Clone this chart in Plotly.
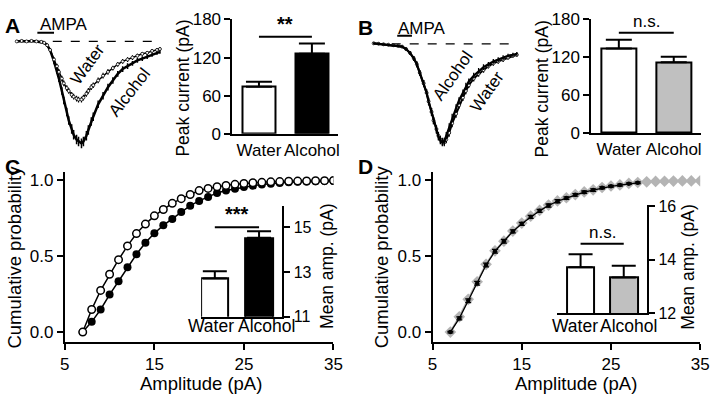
import plotly.graph_objects as go

W, H = 720, 404
def px(x): return x / W
def py(y): return 1 - y / H

FONT = "Liberation Sans, Arial, sans-serif"

# ---------------- Panel A: AMPA currents (time in ms-like units, current in a.u.) -------------
tA = [12,17,22,27,32,37,40,43,46,50,53,55,58,60,63,65,68,70,73,75,78,80,83,85,88,90,95,100,105,110,115,120,125,130,135,140,145,150,155,158]
A_alcohol = [0,0.5,0,0.5,0,-0.5,-1.5,-4,-9,-21,-31,-39,-52,-62,-74,-83,-92,-98,-103,-105,-107,-105,-99,-93,-84,-79,-66,-57,-48,-41,-34,-29,-26,-23,-20,-18,-16,-14,-12,-11]
A_alcohol_err = [1,1,1,1,1,1,1,1.5,2,3,3,3.5,4,4,4.5,4.5,5,5,5,5,5,5,5,5,4.5,4.5,4,4,3.5,3.5,3,3,3,2.5,2.5,2.5,2.5,2,2,2]
A_water = [0,0.5,0,0.5,0,-0.5,-1.5,-4,-9,-19,-26,-32,-39,-44,-49,-52,-56,-58,-60,-61,-61,-59,-55,-52,-48,-46,-41,-36,-32,-28,-24,-21,-19,-17,-15,-13,-12,-10,-9,-8]
A_water_err = [1,1,1,1,1,1,1,1.5,2,2.5,2.5,3,3,3,3,3,3,3,3,3,3,3,3,3,3,3,3,3,3,2.5,2.5,2.5,2.5,2.5,2,2,2,2,2,2]
A_ampa_bar = [33, 50]

# ---------------- Panel B: AMPA currents ----------------
tB = [16,21,26,31,36,41,45,49,53,57,60,63,67,70,72,75,77,80,82,84,86,88,90,93,96,100,103,107,110,113,118,123,128,133,138,143,148,153,158,162]
B_alcohol = [0.5,0,-0.5,-1,-1.5,-2,-3,-5.5,-9.5,-15.5,-21.5,-30.5,-41.5,-51.5,-60.5,-71.5,-80.5,-90.5,-97.5,-101.5,-103.5,-102.5,-96.5,-87.5,-77.5,-67.5,-59.5,-51.5,-44.5,-39.5,-33.5,-28.5,-24.5,-21.5,-18.5,-16.5,-14.5,-12.5,-11.5,-10.5]
B_water = [0.5,0,-0.5,-1,-1.5,-2,-3,-5.5,-9.5,-15.5,-21.5,-30.5,-41.5,-51.5,-60.5,-71.5,-80.5,-89.5,-96.5,-100.5,-102.5,-103.5,-100.5,-93.5,-83.5,-73.5,-64.5,-56.5,-49.5,-43.5,-36.5,-31.5,-27.5,-23.5,-20.5,-18.5,-16.5,-14.5,-12.5,-11.5]
B_err = [1,1,1,1,1,1,1,1.5,2,2.5,3,3,3.5,3.5,4,4,4,4,4,4,4,4,4,4,4,4,3.5,3.5,3.5,3,3,3,3,2.5,2.5,2.5,2.5,2,2,2]
B_ampa_bar = [40, 55]

# ---------------- Bar charts A / B ----------------
groups = ["Water", "Alcohol"]
A_peak = [74, 126]
A_peak_err = [8, 16]
A_sig_y = 153
B_peak = [134, 112]
B_peak_err = [14, 9]
B_sig_y = 159
peak_ticks = [0, 60, 120, 180]

# ---------------- Panel C / D cumulative distributions ----------------
amp = list(range(7, 36))
C_water = [0,0.148,0.273,0.379,0.475,0.565,0.646,0.708,0.762,0.804,0.844,0.875,0.902,0.928,0.942,0.953,0.962,0.969,0.975,0.979,0.982,0.985,0.987,0.989,0.990,0.991,0.992,0.993,0.994]
C_alcohol = [0,0.067,0.148,0.246,0.333,0.425,0.51,0.585,0.648,0.70,0.742,0.7875,0.829,0.86,0.885,0.9125,0.929,0.94,0.952,0.960,0.967,0.973,0.978,0.982,0.985,0.987,0.989,0.990,0.991]
D_alcohol = [0,0.10,0.215,0.33,0.444,0.533,0.596,0.6625,0.715,0.76,0.798,0.833,0.86,0.881,0.902,0.919,0.933,0.948,0.958,0.965,0.975,0.981,0.985,0.988,0.989,0.990,0.991,0.991,0.992]
amp_Dw = list(range(7, 29))
D_water = [0,0.09,0.205,0.32,0.44,0.53,0.595,0.66,0.71,0.755,0.795,0.83,0.858,0.879,0.9,0.917,0.931,0.946,0.956,0.964,0.973,0.979]
D_water_err = [0.005,0.01,0.012,0.012,0.012,0.012,0.012,0.01,0.01,0.01,0.01,0.01,0.01,0.008,0.008,0.008,0.008,0.006,0.006,0.006,0.005,0.005]

C_mean = [12.71, 14.53]
C_mean_err = [0.33, 0.29]
C_sig_y = 15.0
D_mean = [13.72, 13.33]
D_mean_err = [0.48, 0.44]
D_sig_y = 14.6

fig = go.Figure()

# A traces
fig.add_trace(go.Scatter(x=[tA[0], tA[-1]], y=[0, 0], mode="lines", line=dict(color="black", width=1.3, dash="dash"),
                         xaxis="x", yaxis="y", showlegend=False))
fig.add_trace(go.Scatter(x=tA, y=A_alcohol, mode="lines", line=dict(color="black", width=2.5),
                         error_y=dict(type="data", array=A_alcohol_err, color="black", thickness=1.5, width=0),
                         xaxis="x", yaxis="y", showlegend=False))
fig.add_trace(go.Scatter(x=tA, y=A_water, mode="lines+markers", line=dict(color="black", width=1.5),
                         marker=dict(size=3, color="white", line=dict(color="black", width=0.8)),
                         error_y=dict(type="data", array=A_water_err, color="black", thickness=1.2, width=0),
                         xaxis="x", yaxis="y", showlegend=False))
fig.add_trace(go.Scatter(x=A_ampa_bar, y=[9, 9], mode="lines", line=dict(color="black", width=2),
                         xaxis="x", yaxis="y", showlegend=False))

# B traces
fig.add_trace(go.Scatter(x=[tB[0], tB[-1]], y=[0, 0], mode="lines", line=dict(color="black", width=1.3, dash="dash"),
                         xaxis="x3", yaxis="y3", showlegend=False))
fig.add_trace(go.Scatter(x=tB, y=B_water, mode="lines+markers", line=dict(color="black", width=2),
                         marker=dict(size=3, color="white", line=dict(color="black", width=0.8)),
                         error_y=dict(type="data", array=B_err, color="black", thickness=1.3, width=0),
                         xaxis="x3", yaxis="y3", showlegend=False))
fig.add_trace(go.Scatter(x=tB, y=B_alcohol, mode="lines", line=dict(color="black", width=2.2),
                         error_y=dict(type="data", array=B_err, color="black", thickness=1.3, width=0),
                         xaxis="x3", yaxis="y3", showlegend=False))
fig.add_trace(go.Scatter(x=B_ampa_bar, y=[8.5, 8.5], mode="lines", line=dict(color="black", width=2),
                         xaxis="x3", yaxis="y3", showlegend=False))

def bar_trace(vals, errs, colors, xa, ya):
    return go.Bar(x=groups, y=vals, width=0.63, marker=dict(color=colors, line=dict(color="black", width=2)),
                  error_y=dict(type="data", symmetric=False, array=errs, arrayminus=[0, 0], color="black",
                               thickness=2, width=13),
                  xaxis=xa, yaxis=ya, showlegend=False)

fig.add_trace(bar_trace(A_peak, A_peak_err, ["white", "black"], "x2", "y2"))
fig.add_trace(bar_trace(B_peak, B_peak_err, ["white", "#c0c0c0"], "x4", "y4"))

# C main
fig.add_trace(go.Scatter(x=amp, y=C_alcohol, mode="lines+markers", line=dict(color="black", width=1.5),
                         marker=dict(size=8, color="black"), xaxis="x5", yaxis="y5", showlegend=False))
fig.add_trace(go.Scatter(x=amp, y=C_water, mode="lines+markers", line=dict(color="black", width=1.5),
                         marker=dict(size=7.5, color="white", line=dict(color="black", width=1.5)),
                         xaxis="x5", yaxis="y5", showlegend=False))
# C inset
fig.add_trace(go.Bar(x=groups, y=C_mean, width=0.62,
                     marker=dict(color=["white", "black"], line=dict(color="black", width=2)),
                     error_y=dict(type="data", symmetric=False, array=C_mean_err, arrayminus=[0, 0], color="black",
                                  thickness=2, width=12),
                     xaxis="x6", yaxis="y6", showlegend=False))

# D main
fig.add_trace(go.Scatter(x=amp, y=D_alcohol, mode="lines+markers", line=dict(color="#b4b4b4", width=2),
                         marker=dict(size=9, color="#b4b4b4", symbol="diamond"), xaxis="x7", yaxis="y7", showlegend=False))
fig.add_trace(go.Scatter(x=amp_Dw, y=D_water, mode="lines+markers", line=dict(color="black", width=1.3),
                         marker=dict(size=4.5, color="black"),
                         error_y=dict(type="data", array=D_water_err, color="black", thickness=1.3, width=3),
                         xaxis="x7", yaxis="y7", showlegend=False))
# D inset
fig.add_trace(go.Bar(x=groups, y=D_mean, width=0.64,
                     marker=dict(color=["white", "#c0c0c0"], line=dict(color="black", width=2)),
                     error_y=dict(type="data", symmetric=False, array=D_mean_err, arrayminus=[0, 0], color="black",
                                  thickness=2, width=12),
                     xaxis="x8", yaxis="y8", showlegend=False))

ax = dict(showgrid=False, zeroline=False, showline=True, linecolor="black", linewidth=2,
          ticks="outside", ticklen=6, tickwidth=2, tickcolor="black",
          tickfont=dict(family=FONT, size=17, color="black"))
hidden = dict(visible=False, showgrid=False, zeroline=False)

layout = dict(
    width=W, height=H, autosize=False, margin=dict(l=0, r=0, t=0, b=0),
    paper_bgcolor="white", plot_bgcolor="rgba(0,0,0,0)",
    font=dict(family=FONT, color="black"),
    bargap=0,
    xaxis=dict(hidden, domain=[px(0), px(170)], range=[0, 170]),
    yaxis=dict(hidden, domain=[py(150), py(20)], range=[-116, 14]),
    xaxis2=dict(ax, domain=[px(232), px(340)], range=[-0.5, 1.5], ticks="", anchor="y2"),
    yaxis2=dict(ax, domain=[py(131), py(11)], range=[0, 180], tickvals=peak_ticks, anchor="x2"),
    xaxis3=dict(hidden, domain=[px(360), px(530)], range=[0, 170]),
    yaxis3=dict(hidden, domain=[py(150), py(20)], range=[-113.5, 16.5]),
    xaxis4=dict(ax, domain=[px(598), px(710)], range=[-0.5, 1.5], ticks="", anchor="y4"),
    yaxis4=dict(ax, domain=[py(130), py(11)], range=[0, 180], tickvals=peak_ticks, anchor="x4"),
    xaxis5=dict(ax, domain=[px(61), px(335)], range=[5, 35], tickvals=[5, 15, 25, 35], anchor="y5"),
    yaxis5=dict(ax, domain=[py(349), py(171)], range=[-0.0625, 1.05], tickvals=[0, 0.5, 1],
                ticktext=["0.0", "0.5", "1.0"], anchor="x5"),
    xaxis6=dict(ax, domain=[px(200), px(283)], range=[-0.31, 1.53], ticks="", showticklabels=False, anchor="y6"),
    yaxis6=dict(ax, domain=[py(323), py(207)], range=[11, 15.94], tickvals=[11, 13, 15], side="right",
                anchor="x6", tickfont=dict(family=FONT, size=16, color="black")),
    xaxis7=dict(ax, domain=[px(436), px(709)], range=[5, 35], tickvals=[5, 15, 25, 35], anchor="y7"),
    yaxis7=dict(ax, domain=[py(349), py(171)], range=[-0.0625, 1.05], tickvals=[0, 0.5, 1],
                ticktext=["0.0", "0.5", "1.0"], anchor="x7"),
    xaxis8=dict(ax, domain=[px(563), px(655)], range=[-0.545, 1.545], ticks="", showticklabels=False, anchor="y8"),
    yaxis8=dict(ax, domain=[py(319), py(206)], range=[12, 16.04], tickvals=[12, 14, 16], side="right",
                anchor="x8", tickfont=dict(family=FONT, size=16, color="black")),
)
fig.update_layout(**layout)

for xa, ya, yv in [("x2", "y2", A_sig_y), ("x4", "y4", B_sig_y), ("x6", "y6", C_sig_y), ("x8", "y8", D_sig_y)]:
    fig.add_shape(type="line", xref=xa, yref=ya, x0=0, x1=1, y0=yv, y1=yv, line=dict(color="black", width=2))

ann = []
def txt(t, x, y, size=17, bold=False, angle=0, xanchor="center", xref="paper", yref="paper", yanchor="middle"):
    ann.append(dict(text=("<b>%s</b>" % t) if bold else t, x=x, y=y, xref=xref, yref=yref, showarrow=False,
                    xanchor=xanchor, yanchor=yanchor, textangle=angle,
                    font=dict(family=FONT, size=size, color="black")))

txt("**", 0.5, A_sig_y, 20, True, xref="x2", yref="y2", yanchor="bottom")
txt("n.s.", 0.5, B_sig_y, 17, xref="x4", yref="y4", yanchor="bottom")
txt("***", 0.5, C_sig_y, 20, True, xref="x6", yref="y6", yanchor="bottom")
txt("n.s.", 0.5, D_sig_y, 17, xref="x8", yref="y8", yanchor="bottom")

txt("A", px(8), py(17), 21, True)
txt("B", px(368), py(19), 21, True)
txt("C", px(8), py(165), 21, True)
txt("D", px(368), py(165), 21, True)

txt("AMPA", px(34), py(16), 17, xanchor="left")
txt("AMPA", px(399), py(20), 17, xanchor="left")

txt("Water", px(84), py(58), 17, angle=-54)
txt("Alcohol", px(127), py(88), 17, angle=-52)
txt("Alcohol", px(457), py(70), 17, angle=-55)
txt("Water", px(492), py(87), 17, angle=-55)

txt("Peak current (pA)", px(182), py(83), 17.5, angle=-90)
txt("Peak current (pA)", px(548), py(84), 17.5, angle=-90)
txt("Cumulative probability", px(10), py(260), 18.5, angle=-90)
txt("Cumulative probability", px(384), py(260), 18.5, angle=-90)
txt("Amplitude (pA)", px(200), py(393), 18.5)
txt("Amplitude (pA)", px(582), py(393), 18.5)
txt("Mean amp. (pA)", px(329), py(270), 17.5, angle=-90)
txt("Mean amp. (pA)", px(697), py(271), 17.5, angle=-90)

txt("Water", px(210), py(333), 17.5)
txt("Alcohol", px(267), py(333), 17.5)
txt("Water", px(581), py(333), 17.5)
txt("Alcohol", px(636), py(333), 17.5)

fig.update_layout(annotations=ann)
fig.write_html("out.html", config={"displayModeBar": False},
               post_script="document.body.style.margin='0px';document.body.style.overflow='hidden';")
